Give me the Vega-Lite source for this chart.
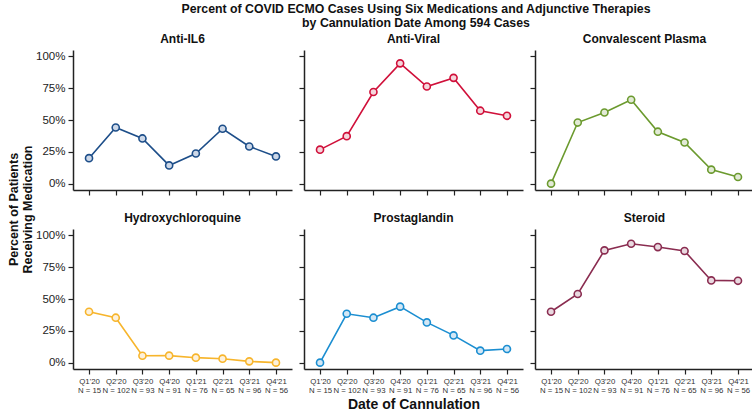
{
  "$schema": "https://vega.github.io/schema/vega-lite/v6.json",
  "background": "white",
  "padding": {"left": 7, "top": 2, "right": 0, "bottom": 2},
  "title": {
    "text": ["Percent of COVID ECMO Cases Using Six Medications and Adjunctive Therapies", "by Cannulation Date Among 594 Cases"],
    "font": "Liberation Sans", "fontSize": 12.3, "fontWeight": "bold", "lineHeight": 14,
    "frame": "group", "anchor": "middle", "offset": 4, "dx": 382, "color": "#111"
  },
  "spacing": -3,
  "config": {
    "view": {"stroke": null},
    "font": "Liberation Sans",
    "title": {"font": "Liberation Sans", "fontSize": 12, "fontWeight": "bold", "offset": 4, "color": "#111"},
    "axis": {
      "grid": false, "domainColor": "#222", "domainWidth": 1.5, "tickColor": "#222", "tickWidth": 1.2,
      "tickSize": 5, "labelFont": "Liberation Sans", "labelColor": "#222",
      "titleFont": "Liberation Sans", "titleFontWeight": "bold", "titleColor": "#111"
    },
    "axisX": {"labelFontSize": 7.8, "labelAngle": 0, "labelLineHeight": 9.5, "labelPadding": 3, "labelColor": "#333"},
    "axisY": {"labelFontSize": 11.5, "labelPadding": 3}
  },
  "data": {"values": [
    {"med": "Anti-IL6", "q": "Q1'20|N = 15", "pct": 0.20},
    {"med": "Anti-IL6", "q": "Q2'20|N = 102", "pct": 0.441},
    {"med": "Anti-IL6", "q": "Q3'20|N = 93", "pct": 0.355},
    {"med": "Anti-IL6", "q": "Q4'20|N = 91", "pct": 0.143},
    {"med": "Anti-IL6", "q": "Q1'21|N = 76", "pct": 0.237},
    {"med": "Anti-IL6", "q": "Q2'21|N = 65", "pct": 0.431},
    {"med": "Anti-IL6", "q": "Q3'21|N = 96", "pct": 0.292},
    {"med": "Anti-IL6", "q": "Q4'21|N = 56", "pct": 0.214},
    {"med": "Anti-Viral", "q": "Q1'20|N = 15", "pct": 0.267},
    {"med": "Anti-Viral", "q": "Q2'20|N = 102", "pct": 0.373},
    {"med": "Anti-Viral", "q": "Q3'20|N = 93", "pct": 0.72},
    {"med": "Anti-Viral", "q": "Q4'20|N = 91", "pct": 0.945},
    {"med": "Anti-Viral", "q": "Q1'21|N = 76", "pct": 0.763},
    {"med": "Anti-Viral", "q": "Q2'21|N = 65", "pct": 0.831},
    {"med": "Anti-Viral", "q": "Q3'21|N = 96", "pct": 0.573},
    {"med": "Anti-Viral", "q": "Q4'21|N = 56", "pct": 0.533},
    {"med": "Convalescent Plasma", "q": "Q1'20|N = 15", "pct": 0.0},
    {"med": "Convalescent Plasma", "q": "Q2'20|N = 102", "pct": 0.48},
    {"med": "Convalescent Plasma", "q": "Q3'20|N = 93", "pct": 0.559},
    {"med": "Convalescent Plasma", "q": "Q4'20|N = 91", "pct": 0.659},
    {"med": "Convalescent Plasma", "q": "Q1'21|N = 76", "pct": 0.408},
    {"med": "Convalescent Plasma", "q": "Q2'21|N = 65", "pct": 0.323},
    {"med": "Convalescent Plasma", "q": "Q3'21|N = 96", "pct": 0.11},
    {"med": "Convalescent Plasma", "q": "Q4'21|N = 56", "pct": 0.052},
    {"med": "Hydroxychloroquine", "q": "Q1'20|N = 15", "pct": 0.40},
    {"med": "Hydroxychloroquine", "q": "Q2'20|N = 102", "pct": 0.353},
    {"med": "Hydroxychloroquine", "q": "Q3'20|N = 93", "pct": 0.054},
    {"med": "Hydroxychloroquine", "q": "Q4'20|N = 91", "pct": 0.055},
    {"med": "Hydroxychloroquine", "q": "Q1'21|N = 76", "pct": 0.039},
    {"med": "Hydroxychloroquine", "q": "Q2'21|N = 65", "pct": 0.031},
    {"med": "Hydroxychloroquine", "q": "Q3'21|N = 96", "pct": 0.01},
    {"med": "Hydroxychloroquine", "q": "Q4'21|N = 56", "pct": 0.0},
    {"med": "Prostaglandin", "q": "Q1'20|N = 15", "pct": 0.0},
    {"med": "Prostaglandin", "q": "Q2'20|N = 102", "pct": 0.384},
    {"med": "Prostaglandin", "q": "Q3'20|N = 93", "pct": 0.353},
    {"med": "Prostaglandin", "q": "Q4'20|N = 91", "pct": 0.44},
    {"med": "Prostaglandin", "q": "Q1'21|N = 76", "pct": 0.316},
    {"med": "Prostaglandin", "q": "Q2'21|N = 65", "pct": 0.214},
    {"med": "Prostaglandin", "q": "Q3'21|N = 96", "pct": 0.094},
    {"med": "Prostaglandin", "q": "Q4'21|N = 56", "pct": 0.107},
    {"med": "Steroid", "q": "Q1'20|N = 15", "pct": 0.40},
    {"med": "Steroid", "q": "Q2'20|N = 102", "pct": 0.539},
    {"med": "Steroid", "q": "Q3'20|N = 93", "pct": 0.882},
    {"med": "Steroid", "q": "Q4'20|N = 91", "pct": 0.934},
    {"med": "Steroid", "q": "Q1'21|N = 76", "pct": 0.908},
    {"med": "Steroid", "q": "Q2'21|N = 65", "pct": 0.877},
    {"med": "Steroid", "q": "Q3'21|N = 96", "pct": 0.646},
    {"med": "Steroid", "q": "Q4'21|N = 56", "pct": 0.643}
  ]},
  "hconcat": [
    {
      "width": 1, "height": 318,
      "mark": {"type": "point", "opacity": 0},
      "encoding": {
        "y": {"field": "pct", "type": "quantitative", "axis": {"title": ["Percent of Patients", "Receiving Medication"], "titleFontSize": 12.5, "titleLineHeight": 14, "titlePadding": 0, "domain": false, "ticks": false, "labels": false}}
      }
    },
    {
      "spacing": 16,
      "vconcat": [
        {"spacing": 6, "hconcat": [
          {
            "title": "Anti-IL6", "width": 219, "height": 140,
            "transform": [{"filter": {"field": "med", "equal": "Anti-IL6"}}],
            "encoding": {
              "x": {"field": "q", "type": "ordinal", "sort": null, "scale": {"padding": 0.6}, "axis": {"labels": false, "title": null}},
              "y": {"field": "pct", "type": "quantitative", "scale": {"domain": [-0.05, 1.05], "nice": false, "zero": false}, "axis": {"values": [0, 0.25, 0.5, 0.75, 1], "format": ".0%", "title": null}}
            },
            "layer": [
              {"mark": {"type": "line", "color": "#1d4e89", "strokeWidth": 1.6}},
              {"mark": {"type": "point", "shape": "circle", "size": 50, "filled": false, "stroke": "#1d4e89", "fill": "#cdd8e8", "fillOpacity": 1, "strokeWidth": 1.6, "opacity": 1}}
            ]
          },
          {
            "title": "Anti-Viral", "width": 219, "height": 140,
            "transform": [{"filter": {"field": "med", "equal": "Anti-Viral"}}],
            "encoding": {
              "x": {"field": "q", "type": "ordinal", "sort": null, "scale": {"padding": 0.6}, "axis": {"labels": false, "title": null}},
              "y": {"field": "pct", "type": "quantitative", "scale": {"domain": [-0.05, 1.05], "nice": false, "zero": false}, "axis": {"values": [0, 0.25, 0.5, 0.75, 1], "labels": false, "title": null}}
            },
            "layer": [
              {"mark": {"type": "line", "color": "#d0103a", "strokeWidth": 1.6}},
              {"mark": {"type": "point", "shape": "circle", "size": 50, "filled": false, "stroke": "#d0103a", "fill": "#f4d6dc", "fillOpacity": 1, "strokeWidth": 1.6, "opacity": 1}}
            ]
          },
          {
            "title": "Convalescent Plasma", "width": 219, "height": 140,
            "transform": [{"filter": {"field": "med", "equal": "Convalescent Plasma"}}],
            "encoding": {
              "x": {"field": "q", "type": "ordinal", "sort": null, "scale": {"padding": 0.6}, "axis": {"labels": false, "title": null}},
              "y": {"field": "pct", "type": "quantitative", "scale": {"domain": [-0.05, 1.05], "nice": false, "zero": false}, "axis": {"values": [0, 0.25, 0.5, 0.75, 1], "labels": false, "title": null}}
            },
            "layer": [
              {"mark": {"type": "line", "color": "#6b9a2e", "strokeWidth": 1.6}},
              {"mark": {"type": "point", "shape": "circle", "size": 50, "filled": false, "stroke": "#6b9a2e", "fill": "#e2ead6", "fillOpacity": 1, "strokeWidth": 1.6, "opacity": 1}}
            ]
          }
        ]},
        {"spacing": 6, "hconcat": [
          {
            "title": "Hydroxychloroquine", "width": 219, "height": 140,
            "transform": [{"filter": {"field": "med", "equal": "Hydroxychloroquine"}}],
            "encoding": {
              "x": {"field": "q", "type": "ordinal", "sort": null, "scale": {"padding": 0.6}, "axis": {"labelExpr": "split(datum.label, '|')", "title": null}},
              "y": {"field": "pct", "type": "quantitative", "scale": {"domain": [-0.05, 1.05], "nice": false, "zero": false}, "axis": {"values": [0, 0.25, 0.5, 0.75, 1], "format": ".0%", "title": null}}
            },
            "layer": [
              {"mark": {"type": "line", "color": "#f7b52c", "strokeWidth": 1.6}},
              {"mark": {"type": "point", "shape": "circle", "size": 50, "filled": false, "stroke": "#f7b52c", "fill": "#fdf1dc", "fillOpacity": 1, "strokeWidth": 1.6, "opacity": 1}}
            ]
          },
          {
            "title": "Prostaglandin", "width": 219, "height": 140,
            "transform": [{"filter": {"field": "med", "equal": "Prostaglandin"}}],
            "encoding": {
              "x": {"field": "q", "type": "ordinal", "sort": null, "scale": {"padding": 0.6}, "axis": {"labelExpr": "split(datum.label, '|')", "title": "Date of Cannulation", "titleFontSize": 14, "titlePadding": 3}},
              "y": {"field": "pct", "type": "quantitative", "scale": {"domain": [-0.05, 1.05], "nice": false, "zero": false}, "axis": {"values": [0, 0.25, 0.5, 0.75, 1], "labels": false, "title": null}}
            },
            "layer": [
              {"mark": {"type": "line", "color": "#1b8ed1", "strokeWidth": 1.6}},
              {"mark": {"type": "point", "shape": "circle", "size": 50, "filled": false, "stroke": "#1b8ed1", "fill": "#d3e7f5", "fillOpacity": 1, "strokeWidth": 1.6, "opacity": 1}}
            ]
          },
          {
            "title": "Steroid", "width": 219, "height": 140,
            "transform": [{"filter": {"field": "med", "equal": "Steroid"}}],
            "encoding": {
              "x": {"field": "q", "type": "ordinal", "sort": null, "scale": {"padding": 0.6}, "axis": {"labelExpr": "split(datum.label, '|')", "title": null}},
              "y": {"field": "pct", "type": "quantitative", "scale": {"domain": [-0.05, 1.05], "nice": false, "zero": false}, "axis": {"values": [0, 0.25, 0.5, 0.75, 1], "labels": false, "title": null}}
            },
            "layer": [
              {"mark": {"type": "line", "color": "#8a2c50", "strokeWidth": 1.6}},
              {"mark": {"type": "point", "shape": "circle", "size": 50, "filled": false, "stroke": "#8a2c50", "fill": "#e9d9e0", "fillOpacity": 1, "strokeWidth": 1.6, "opacity": 1}}
            ]
          }
        ]}
      ]
    }
  ]
}
